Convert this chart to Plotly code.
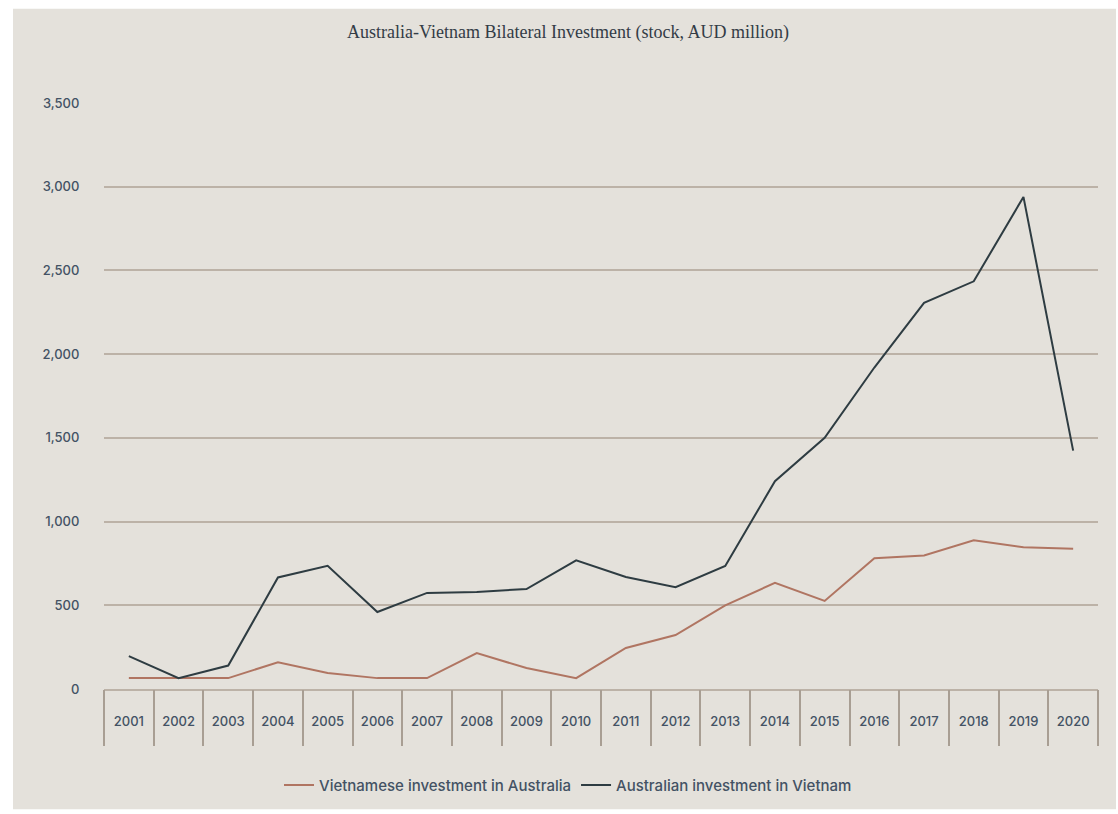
import plotly.graph_objects as go

years = list(range(2001, 2021))
year_labels = [str(y) for y in years]
vn_in_au = [65, 65, 65, 160, 95, 65, 65, 215, 125, 65, 245, 322, 500, 634, 526, 781, 798, 888, 847, 837]
au_in_vn = [196, 65, 140, 666, 736, 460, 574, 580, 597, 768, 669, 608, 735, 1241, 1500, 1920, 2306, 2435, 2939, 1424]
y_ticks = [0, 500, 1000, 1500, 2000, 2500, 3000, 3500]
y_tick_text = ["0", "500", "1,000", "1,500", "2,000", "2,500", "3,000", "3,500"]

BG = "#e4e1db"
ORANGE = "#b07562"
DARK = "#2e3c42"
GRID = "#bcb2a7"
TXT = "#435264"
SANS = "Inter, Lato, 'Open Sans', sans-serif"

W, H = 1118, 814
L, R_PX, T_PX, B_PX = 104, 1098, 103, 693  # plot area in picture coords
pw, ph = R_PX - L, B_PX - T_PX

def px(xp):
    return (xp - L) / pw

def py(yp):
    return (B_PX - yp) / ph

fig = go.Figure()
fig.add_trace(go.Scatter(x=years, y=vn_in_au, mode="lines", name="Vietnamese investment in Australia",
                         line=dict(color=ORANGE, width=2)))
fig.add_trace(go.Scatter(x=years, y=au_in_vn, mode="lines", name="Australian investment in Vietnam",
                         line=dict(color=DARK, width=2)))
# invisible trace for the boundary-tick axis
fig.add_trace(go.Scatter(x=years, y=au_in_vn, xaxis="x2", mode="lines", showlegend=False,
                         hoverinfo="skip", line=dict(color="rgba(0,0,0,0)", width=0)))

fig.add_shape(type="rect", xref="paper", yref="paper", x0=px(13), x1=px(1116), y0=py(814), y1=py(8),
              fillcolor=BG, line=dict(width=0), layer="below")

fig.update_layout(
    width=W, height=H,
    margin=dict(l=L, r=W - R_PX, t=T_PX, b=H - B_PX),
    paper_bgcolor="white", plot_bgcolor="rgba(0,0,0,0)",
    title=dict(text="Australia-Vietnam Bilateral Investment (stock, AUD million)",
               x=568 / W, xanchor="center", y=1 - 32 / H, yanchor="middle",
               font=dict(family="'Liberation Serif', 'DejaVu Serif', serif", size=18, color="#333c46")),
    xaxis=dict(range=[2000.5, 2020.5], tickmode="array", tickvals=years, ticktext=year_labels,
               ticks="outside", ticklen=19, tickcolor="rgba(0,0,0,0)", showgrid=False, zeroline=False,
               showline=True, linecolor=GRID, linewidth=2,
               tickfont=dict(family=SANS, size=13, color=TXT, weight=500)),
    xaxis2=dict(range=[2000.5, 2020.5], overlaying="x", anchor="y", side="bottom",
                tickmode="linear", tick0=2000.5, dtick=1, ticks="outside", ticklen=56,
                tickcolor="#a89e93", tickwidth=2, showticklabels=False, showgrid=False, zeroline=False),
    yaxis=dict(range=[0, 3500], tickmode="array", tickvals=y_ticks, ticktext=y_tick_text,
               showgrid=True, gridcolor=GRID, gridwidth=2, zeroline=False,
               ticks="outside", ticklen=21, tickcolor="rgba(0,0,0,0)",
               tickfont=dict(family=SANS, size=13, color=TXT, weight=500)),
    legend=dict(orientation="h", x=px(568), xanchor="center", y=py(790), yanchor="middle",
                bgcolor="rgba(0,0,0,0)", font=dict(family=SANS, size=15, color=TXT, weight=500),
                itemwidth=30, tracegroupgap=0),
    showlegend=True,
)

fig.write_html("out.html", config={"displayModeBar": False},
               post_script="document.body.style.margin='0';document.body.style.overflow='hidden';")
